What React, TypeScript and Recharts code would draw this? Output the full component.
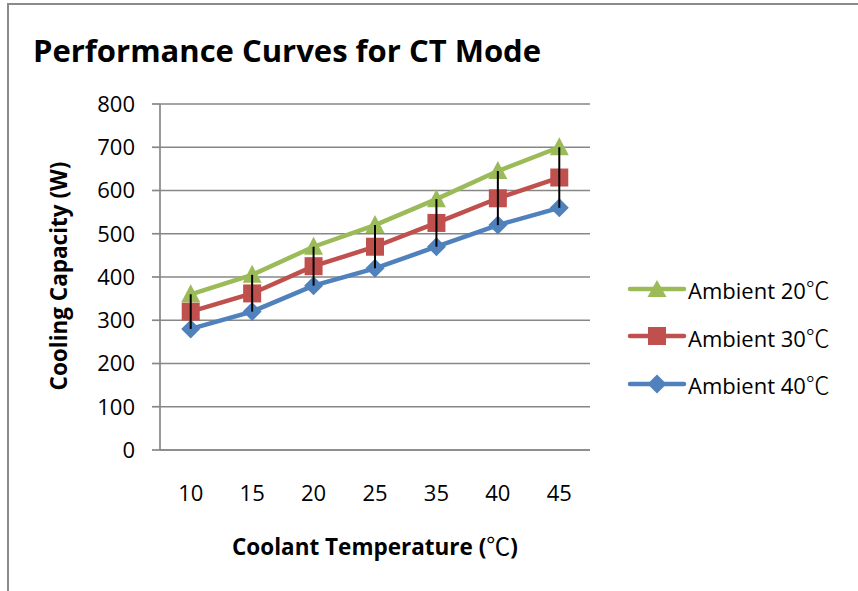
import React from "react";
import {
  ComposedChart,
  Line,
  XAxis,
  YAxis,
  CartesianGrid,
  ErrorBar
} from "recharts";

const categories = ["10", "15", "20", "25", "35", "40", "45"];
const ambient20 = [360, 405, 470, 520, 580, 645, 700];
const ambient30 = [320, 362, 425, 470, 525, 582, 630];
const ambient40 = [280, 320, 380, 420, 470, 520, 560];
const yTicks = [0, 100, 200, 300, 400, 500, 600, 700, 800];

const GREEN = "#9BBB59";
const RED = "#C0504D";
const BLUE = "#4F81BD";
const GRID = "#878787";
const FONT = "'Open Sans', 'Noto Sans CJK SC', sans-serif";
const CJK = "'Noto Sans CJK SC', sans-serif";

const data = categories.map((c, i) => ({
  temp: c,
  a20: ambient20[i],
  a30: ambient30[i],
  a40: ambient40[i],
  // high-low line, from the 40 series up to the 20 series
  hiLo: [ambient20[i] - ambient40[i], 0]
}));

const Triangle = (props: any) => {
  const { cx, cy, index, fill } = props;
  return (
    <path
      key={"t" + index}
      d={`M${cx},${cy - 10} L${cx + 9.5},${cy + 8} L${cx - 9.5},${cy + 8} Z`}
      fill={fill}
    />
  );
};

const Square = (props: any) => {
  const { cx, cy, index, fill } = props;
  return <rect key={"s" + index} x={cx - 9} y={cy - 9} width={18} height={18} fill={fill} />;
};

const Diamond = (props: any) => {
  const { cx, cy, index, fill } = props;
  return (
    <path
      key={"d" + index}
      d={`M${cx},${cy - 9.5} L${cx + 9.5},${cy} L${cx},${cy + 9.5} L${cx - 9.5},${cy} Z`}
      fill={fill}
    />
  );
};

const legendItems = [
  { name: "Ambient 20", color: GREEN, shape: "tri" },
  { name: "Ambient 30", color: RED, shape: "sq" },
  { name: "Ambient 40", color: BLUE, shape: "dia" }
];

function LegendBox() {
  return (
    <div style={{ position: "absolute", left: 627, top: 265, fontFamily: FONT, fontSize: 22 }}>
      {legendItems.map((it) => (
        <div key={it.name} style={{ display: "flex", alignItems: "center", height: 47.5 }}>
          <svg width={60} height={24}>
            <line x1={3} y1={12} x2={57} y2={12} stroke={it.color} strokeWidth={4.5} strokeLinecap="round" />
            {it.shape === "tri" && <path d="M30,3 L39.5,20 L20.5,20 Z" fill={it.color} />}
            {it.shape === "sq" && <rect x={21} y={3} width={18} height={18} fill={it.color} />}
            {it.shape === "dia" && <path d="M30,2.5 L39.5,12 L30,21.5 L20.5,12 Z" fill={it.color} />}
          </svg>
          <span style={{ marginLeft: 1, color: "#000" }}>
            {it.name}
            <span style={{ fontFamily: CJK, fontSize: 24, fontWeight: 300 }}>℃</span>
          </span>
        </div>
      ))}
    </div>
  );
}

const MARGIN = { top: 104, right: 268, bottom: 111, left: 100 };

export default function App() {
  return (
    <div
      style={{
        position: "absolute",
        left: 0,
        top: 0,
        width: 858,
        height: 591,
        overflow: "hidden",
        background: "#fff"
      }}
    >
      <div
        style={{
          position: "absolute",
          left: 7,
          top: 3,
          width: 900,
          height: 700,
          border: "2.5px solid #8a8a8a"
        }}
      />
      <svg
        width={858}
        height={591}
        style={{ position: "absolute", left: 0, top: 0, pointerEvents: "none" }}
      >
        <text x={33} y={62} fontFamily={FONT} fontWeight="bold" fontSize={31} fill="#000">
          Performance Curves for CT Mode
        </text>
        <text
          x={67}
          y={276}
          transform="rotate(-90 67 276)"
          textAnchor="middle"
          fontFamily={FONT}
          fontWeight="bold"
          fontSize={22.5}
          fill="#000"
        >
          Cooling Capacity (W)
        </text>
        <text x={375} y={555} textAnchor="middle" fontFamily={FONT} fontWeight="bold" fontSize={22.5} fill="#000">
          Coolant Temperature (<tspan fontFamily={CJK} fontWeight="normal" fontSize={24}>℃</tspan>)
        </text>
      </svg>
      <div style={{ position: "absolute", left: 0, top: 0 }}>
        <ComposedChart width={858} height={591} data={data} margin={MARGIN}>
          <CartesianGrid vertical={false} stroke={GRID} strokeWidth={1.7} />
          <XAxis
            dataKey="temp"
            scale="band"
            height={30}
            axisLine={{ stroke: GRID, strokeWidth: 1.7 }}
            tickLine={false}
            tickSize={0}
            tickMargin={35}
            tick={{ fill: "#000", fontSize: 22, fontFamily: FONT }}
          />
          <YAxis
            width={60}
            domain={[0, 800]}
            ticks={yTicks}
            interval={0}
            axisLine={{ stroke: GRID, strokeWidth: 1.7 }}
            tickLine={{ stroke: GRID, strokeWidth: 1.7 }}
            tickSize={8}
            tickMargin={17}
            tick={{ fill: "#000", fontSize: 22, fontFamily: FONT }}
          />
          <Line
            dataKey="a40"
            stroke={BLUE}
            strokeWidth={4.5}
            dot={<Diamond fill={BLUE} />}
            activeDot={false}
            isAnimationActive={false}
          />
          <Line
            dataKey="a30"
            stroke={RED}
            strokeWidth={4.5}
            dot={<Square fill={RED} />}
            activeDot={false}
            isAnimationActive={false}
          />
          <Line
            dataKey="a20"
            stroke={GREEN}
            strokeWidth={4.5}
            dot={<Triangle fill={GREEN} />}
            activeDot={false}
            isAnimationActive={false}
          />
        </ComposedChart>
      </div>
      {/* high-low lines drawn in a second chart on top, same plot box and scales */}
      <div style={{ position: "absolute", left: 0, top: 0, pointerEvents: "none" }}>
        <ComposedChart
          width={858}
          height={591}
          data={data}
          margin={{ top: MARGIN.top, right: MARGIN.right, bottom: MARGIN.bottom + 30, left: MARGIN.left + 60 }}
        >
          <XAxis dataKey="temp" scale="band" hide />
          <YAxis domain={[0, 800]} ticks={yTicks} hide />
          <Line
            dataKey="a20"
            stroke="none"
            dot={false}
            activeDot={false}
            legendType="none"
            isAnimationActive={false}
          >
            <ErrorBar dataKey="hiLo" width={0} stroke="#000" strokeWidth={2} direction="y" isAnimationActive={false} />
          </Line>
        </ComposedChart>
      </div>
      <LegendBox />
    </div>
  );
}
